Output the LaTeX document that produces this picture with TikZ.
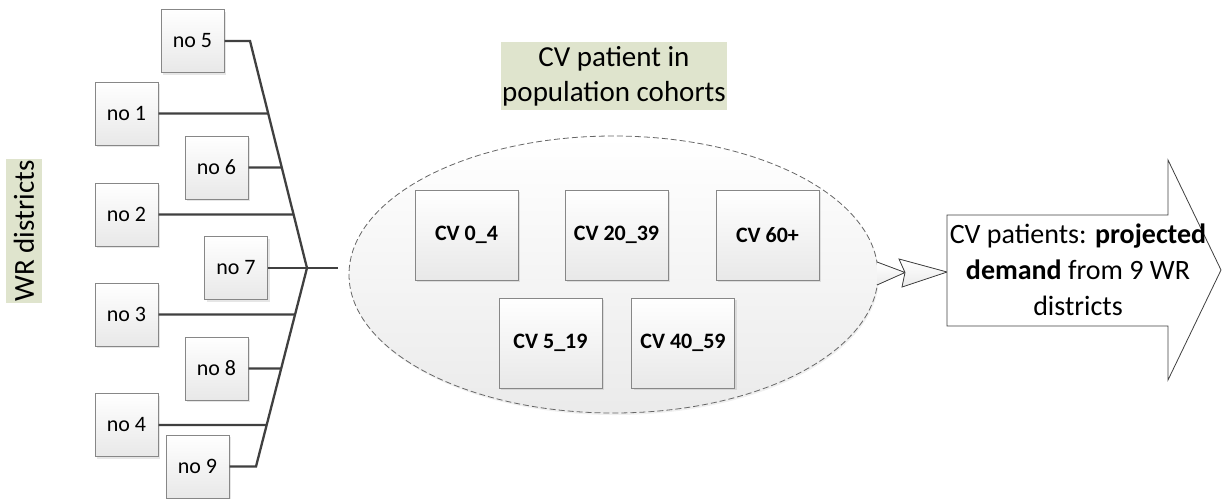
\documentclass[tikz,border=0pt]{standalone}
\usepackage{fontspec}
\setmainfont{Carlito}
\usepackage{tikz}
\usetikzlibrary{positioning,shadows,shapes.geometric}
\definecolor{labelbg}{RGB}{223,228,205}
\definecolor{boxline}{RGB}{135,135,135}
\definecolor{linkgray}{RGB}{64,64,64}

\begin{document}
\begin{tikzpicture}[x=1pt,y=-1pt,
	district/.style={draw=boxline,line width=1pt,top color=white,bottom color=black!9,minimum width=63pt,minimum height=63pt,inner sep=0pt,font=\fontsize{22}{26}\selectfont,drop shadow={opacity=0.2,shadow xshift=2pt,shadow yshift=-2pt}},
	cohortbox/.style={district,minimum width=103pt,minimum height=90pt,font=\fontsize{22}{26}\selectfont\bfseries},
	tag/.style={fill=labelbg,inner sep=1pt,align=center,font=\fontsize{29}{35}\selectfont},
	link/.style={draw=linkgray,line width=2.3pt}]
	\useasboundingbox (0,0) rectangle (1222,498);
	\node[tag,rotate=90,minimum width=144pt,minimum height=36pt](wr) at (24,231){WR districts};
	\node[district](no5) at (192.5,41){no 5};
	\node[district](no1) at (126.5,113.5){no 1};
	\node[district](no6) at (216.5,167.5){no 6};
	\node[district](no2) at (126.5,214.5){no 2};
	\node[district](no7) at (236,268){no 7};
	\node[district](no3) at (126.5,314.5){no 3};
	\node[district](no8) at (216.5,368.5){no 8};
	\node[district](no4) at (126.5,425){no 4};
	\node[district](no9) at (197.5,466.5){no 9};
	\coordinate(top) at (250,41);
	\coordinate(hub) at (307,268);
	\coordinate(bot) at (256,466.5);
	\coordinate(hubout) at (338,268);
	\path[link](no5) -- (top) -- (hub) -- (bot) -- (no9);
	\path[link](no7) -- (hub) -- (hubout);
	\foreach \n in {1,6,2}
		\path[link](no\n) -- (intersection of top--hub and no\n.east--no\n.west);
	\foreach \n in {3,8,4}
		\path[link](no\n) -- (intersection of hub--bot and no\n.east--no\n.west);
	\node[ellipse,draw=linkgray!80,dashed,dash pattern=on 6pt off 3pt,line width=0.8pt,top color=white,bottom color=black!8,minimum width=529pt,minimum height=277pt,drop shadow={opacity=0.12,shadow xshift=1pt,shadow yshift=-2pt}](cohort) at (613.5,274.5){};
	\node[tag,inner ysep=4.5pt](cohorttitle) at (614,76){CV patient in\\population cohorts};
	\node[cohortbox](cv0) at (466.5,235){CV 0\_4};
	\node[cohortbox](cv20) at (616.5,235){CV 20\_39};
	\node[cohortbox](cv60) at (767.5,235){CV 60+};
	\node[cohortbox](cv5) at (550.5,343){CV 5\_19};
	\node[cohortbox](cv40) at (683,343){CV 40\_59};
	\filldraw[draw=linkgray,line width=0.8pt,top color=white,bottom color=black!8] (877,262) -- (905,272.5) -- (877,285);
	\filldraw[draw=linkgray,line width=0.8pt,top color=white,bottom color=black!8] (899,259) -- (947,272) -- (902,287) -- (905,272.5) -- cycle;
	\filldraw[draw=linkgray,line width=0.8pt,fill=white] (947,215) -- (1168,215) -- (1168,160) -- (1221,270) -- (1168,380) -- (1168,326) -- (947,326) -- cycle;
	\node[align=center,font=\fontsize{28}{36}\selectfont](demand) at (1078,270){CV patients: \textbf{projected}\\\textbf{demand} from 9 WR\\districts};
\end{tikzpicture}
\end{document}
